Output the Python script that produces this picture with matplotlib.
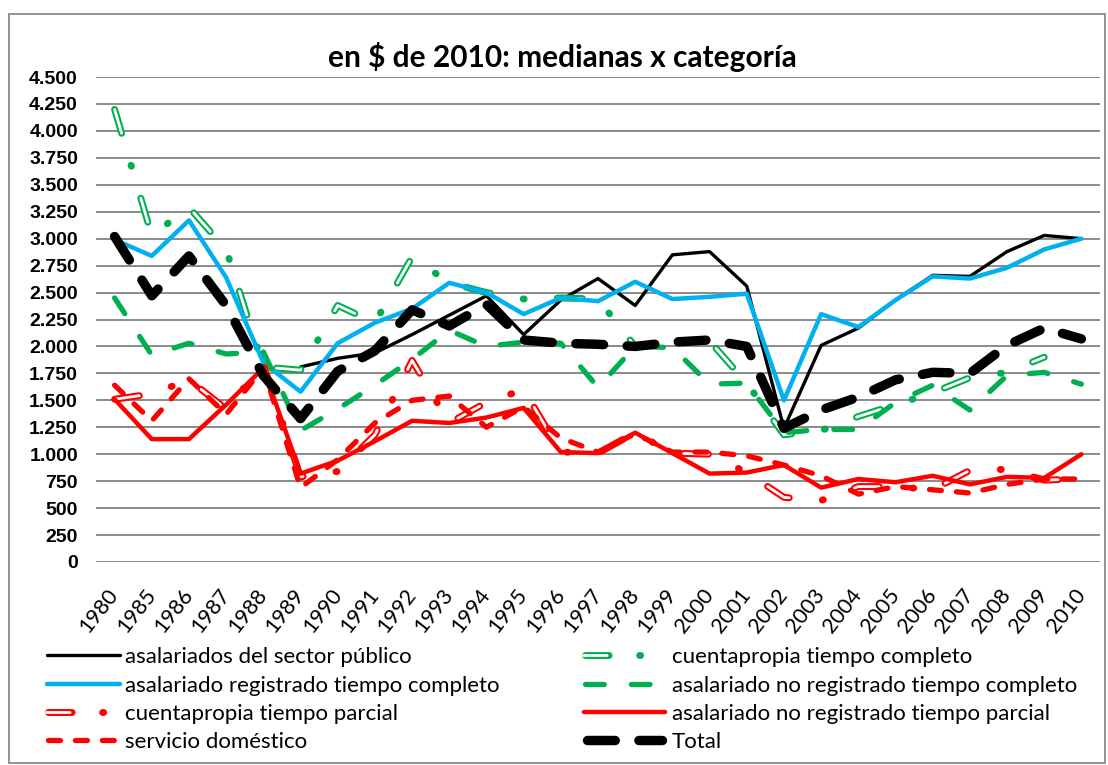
import numpy as np
import matplotlib
matplotlib.use("Agg")
import matplotlib.pyplot as plt
from matplotlib.lines import Line2D
from matplotlib.patches import Rectangle

plt.rcParams['lines.scale_dashes'] = False

nan = np.nan
years = ['1980', '1985', '1986', '1987', '1988', '1989', '1990', '1991', '1992', '1993',
         '1994', '1995', '1996', '1997', '1998', '1999', '2000', '2001', '2002', '2003',
         '2004', '2005', '2006', '2007', '2008', '2009', '2010']

publico = [nan, nan, nan, nan, nan, 1810, 1890, 1940, 2110, 2290, 2470, 2110, 2430, 2630,
           2380, 2850, 2880, 2560, 1240, 2010, 2170, 2430, 2660, 2650, 2880, 3030, 3000]
cuenta_tc = [4200, 3030, 3290, 2900, 1810, 1780, 2380, 2220, 2830, 2590, 2500, 2440, 2450,
             2440, 2000, 2040, 2050, 1660, 1180, 1220, 1350, 1460, 1570, 1710, 1760, 1900, nan]
registrado = [2990, 2840, 3170, 2640, 1850, 1580, 2030, 2220, 2350, 2590, 2500, 2300, 2450,
              2420, 2600, 2440, 2460, 2490, 1500, 2300, 2180, 2430, 2650, 2630, 2730, 2900, 3000]
noreg_tc = [2450, 1920, 2030, 1930, 1950, 1220, 1420, 1640, 1880, 2150, 2000, 2040, 2030,
            1620, 2000, 1990, 1650, 1660, 1200, 1230, 1230, 1480, 1640, 1410, 1730, 1760, 1650]
cuenta_tp = [1510, 1560, 1690, 1420, 1830, 790, 840, 1180, 1870, 1290, 1480, 1600, 1020,
             1010, 1200, 1010, 1000, 830, 600, 570, 700, 700, 670, 850, 860, 760, 770]
noreg_tp = [1510, 1140, 1140, 1460, 1800, 820, 940, 1120, 1310, 1290, 1340, 1430, 1020,
            1010, 1200, 1010, 820, 830, 900, 690, 770, 740, 800, 720, 790, 780, 1000]
servicio = [1640, 1310, 1700, 1370, 1800, 690, 950, 1290, 1500, 1540, 1250, 1440, 1150,
            1020, 1190, 1020, 1020, 985, 900, 800, 630, 700, 670, 640, 720, 770, 770]
total = [3020, 2470, 2840, 2380, 1730, 1330, 1770, 1960, 2340, 2190, 2390, 2060, 2030,
         2020, 2000, 2040, 2060, 2000, 1240, 1410, 1530, 1690, 1760, 1750, 2010, 2170, 2070]

labels = ['asalariados del sector público', 'cuentapropia tiempo completo',
          'asalariado registrado tiempo completo', 'asalariado no registrado tiempo completo',
          'cuentapropia tiempo parcial', 'asalariado no registrado tiempo parcial',
          'servicio doméstico', 'Total']
title = 'en $ de 2010: medianas x categoría'

BLACK = '#000000'
BLUE = '#00B0F0'
GREEN = '#00B050'
RED = '#FF0000'

W, H = 1108, 765
fig = plt.figure(figsize=(W / 100, H / 100), dpi=100)
fig.patch.set_facecolor('white')

ax = fig.add_axes([96 / W, 1 - 562 / H, (1100 - 96) / W, (562 - 77) / H])
x = np.arange(len(years))
ax.set_xlim(-0.5, len(years) - 0.5)
ax.set_ylim(0, 4500)
for s in ax.spines.values():
    s.set_visible(False)
ax.set_yticks(np.arange(0, 4501, 250))
ax.yaxis.grid(True, color='#8a8a8a', lw=1.4)
ax.set_axisbelow(True)
ax.set_yticklabels([f'{v:,.0f}'.replace(',', '.') for v in np.arange(0, 4501, 250)],
                   fontsize=14, fontweight='bold', family=['Liberation Sans', 'DejaVu Sans'])
ax.tick_params(axis='y', length=0, pad=13)
ax.set_xticks(x)
ax.set_xticklabels(years, rotation=52, ha='right', va='center', rotation_mode='anchor',
                   fontsize=15.5, family=['Lato', 'DejaVu Sans'])
ax.tick_params(axis='x', length=0, pad=21)

common = dict(solid_joinstyle='round', solid_capstyle='round',
              dash_joinstyle='round', dash_capstyle='round')

# dash patterns (points)
TOTAL_D = (0, (20, 17))
GREEN_D = (0, (13.5, 19.5))
RED_D = (0, (8.6, 10.8))
HOL_OUT = (0, (18, 24, 0.7, 24))
HOL_IN = (0, (18, 48.7))
HOL_OUT_L = (0, (17, 22, 0.7, 40))
HOL_IN_L = (0, (17, 80))

styles = {
    'pub': dict(color=BLACK, lw=2.4),
    'reg': dict(color=BLUE, lw=3.2),
    'ntc': dict(color=GREEN, lw=3.8, linestyle=GREEN_D),
    'ntp': dict(color=RED, lw=3.2),
    'ser': dict(color=RED, lw=3.8, linestyle=RED_D),
    'tot': dict(color=BLACK, lw=6.8, linestyle=TOTAL_D),
}


def hollow(ax, y, color, zo):
    ax.plot(x, y, color=color, lw=5.0, linestyle=HOL_OUT, zorder=zo, **common)
    ax.plot(x, y, color='white', lw=2.0, linestyle=HOL_IN, zorder=zo + 0.1, **common)


ax.plot(x, publico, zorder=2, **styles['pub'], **common)
hollow(ax, cuenta_tc, GREEN, 3)
ax.plot(x, registrado, zorder=4, **styles['reg'], **common)
ax.plot(x, noreg_tc, zorder=5, **styles['ntc'], **common)
hollow(ax, cuenta_tp, RED, 6)
ax.plot(x, noreg_tp, zorder=7, **styles['ntp'], **common)
ax.plot(x, servicio, zorder=8, **styles['ser'], **common)
ax.plot(x, total, zorder=9, **styles['tot'], **common)

fig.text(562 / W, 1 - 57 / H, title, ha='center', va='center', fontsize=21.5,
         fontweight='bold', family=['Lato', 'DejaVu Sans'])

# manual legend (pixel positions converted to figure fraction)
rows = [655, 684, 712, 740]


def leg_line(x0, x1, yrow, **kw):
    lw_px = kw.get('lw', 1) * 100 / 72
    fig.add_artist(Line2D([(x0 + lw_px / 2) / W, (x1 - lw_px / 2) / W],
                          [1 - yrow / H, 1 - yrow / H], transform=fig.transFigure,
                          zorder=5, **kw, **common))


def leg_hollow(x0, x1, yrow, color):
    leg_line(x0, x1, yrow, color=color, lw=5.0, linestyle=HOL_OUT_L)
    leg_line(x0, x1, yrow, color='white', lw=2.0, linestyle=HOL_IN_L)


def leg_text(xt, yrow, s):
    fig.text(xt / W, 1 - yrow / H, s, ha='left', va='center_baseline', fontsize=16,
             family=['Lato', 'DejaVu Sans'])


LX0, LX1, LT = 45, 122, 125
RX0, RX1, RT = 582, 667, 672

leg_line(LX0, LX1, rows[0], **styles['pub']); leg_text(LT, rows[0], labels[0])
leg_line(LX0, LX1, rows[1], **styles['reg']); leg_text(LT, rows[1], labels[2])
leg_hollow(LX0, LX1, rows[2], RED); leg_text(LT, rows[2], labels[4])
leg_line(LX0, LX1, rows[3], **styles['ser']); leg_text(LT, rows[3], labels[6])

leg_hollow(RX0, RX1, rows[0], GREEN); leg_text(RT, rows[0], labels[1])
leg_line(RX0, RX1, rows[1], **styles['ntc']); leg_text(RT, rows[1], labels[3])
leg_line(RX0, RX1, rows[2], **styles['ntp']); leg_text(RT, rows[2], labels[5])
leg_line(RX0, RX1, rows[3], **styles['tot']); leg_text(RT, rows[3], labels[7])

fig.patches.append(Rectangle((9 / W, 1 - 763 / H), (1105 - 9) / W, (763 - 14) / H,
                             transform=fig.transFigure, fill=False, edgecolor='#8a8a8a',
                             lw=1.3, zorder=0))

fig.savefig('out.png', dpi=100, facecolor='white')
